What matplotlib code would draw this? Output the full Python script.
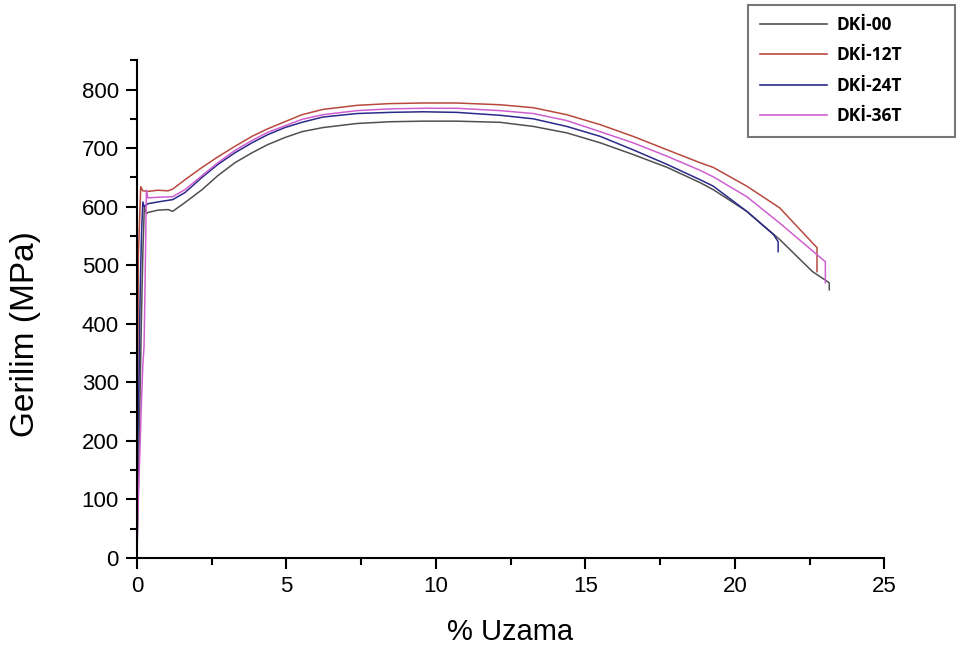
import matplotlib
matplotlib.use("Agg")
import matplotlib.pyplot as plt
from matplotlib.ticker import MultipleLocator

# ---- data ----
labels = ["DKİ-00", "DKİ-12T", "DKİ-24T", "DKİ-36T"]
colors = ["#505050", "#b8493e", "#2a2a8a", "#cf5fd0"]

dk00_x = [0, 0.05, 0.1, 0.15, 0.2, 0.25, 0.32, 0.37, 0.7, 1.04, 1.2, 1.61, 2.18, 2.71, 3.28,
          3.85, 4.38, 4.95, 5.52, 6.22, 7.36, 8.47, 9.57, 10.7, 12.15, 13.26, 14.38, 15.5,
          16.6, 17.74, 18.84, 19.28, 20.4, 21.5, 22.6, 23.16, 23.16]
dk00_y = [0, 120, 260, 400, 520, 600, 588, 590, 594, 595, 592, 607, 629, 653, 675,
          692, 706, 718, 728, 735, 742, 745, 746, 746, 744, 737, 726, 709,
          689, 667, 641, 629, 592, 544, 489, 470, 458]

dk12_x = [0, 0.03, 0.05, 0.08, 0.13, 0.2, 0.37, 0.7, 1.04, 1.2, 1.61, 2.18, 2.71, 3.28,
          3.85, 4.38, 4.95, 5.52, 6.22, 7.36, 8.47, 9.57, 10.7, 12.15, 13.26, 14.38, 15.5,
          16.6, 17.74, 18.84, 19.28, 20.4, 21.5, 22.6, 22.75, 22.75]
dk12_y = [0, 300, 515, 560, 634, 627, 626, 628, 627, 630, 646, 667, 685, 703,
          720, 733, 745, 757, 766, 773, 776, 777, 777, 774, 769, 757, 740,
          720, 697, 675, 667, 635, 598, 538, 530, 489]

dk24_x = [0, 0.02, 0.05, 0.08, 0.1, 0.13, 0.16, 0.2, 0.25, 0.37, 0.7, 1.2, 1.61, 2.18,
          2.71, 3.28, 3.85, 4.38, 4.95, 5.52, 6.22, 7.36, 8.47, 9.57, 10.7, 12.15, 13.26,
          14.38, 15.5, 16.6, 17.74, 18.84, 19.28, 20.4, 21.3, 21.45, 21.45]
dk24_y = [0, 150, 250, 330, 420, 500, 560, 608, 600, 605, 608, 612, 624, 650,
          672, 692, 709, 723, 735, 744, 753, 759, 761, 762, 761, 756, 750,
          737, 720, 697, 672, 646, 635, 592, 552, 540, 523]

dk36_x = [0, 0.05, 0.1, 0.15, 0.2, 0.24, 0.27, 0.3, 0.32, 0.37, 0.7, 1.2, 1.61, 2.18,
          2.71, 3.28, 3.85, 4.38, 4.95, 5.52, 6.22, 7.36, 8.47, 9.57, 10.7, 12.15, 13.26,
          14.38, 15.5, 16.6, 17.74, 18.84, 19.28, 20.4, 21.5, 22.75, 23.03, 23.03]
dk36_y = [0, 100, 180, 260, 330, 360, 450, 560, 628, 615, 616, 617, 629, 653,
          675, 696, 713, 727, 738, 749, 757, 764, 767, 768, 768, 764, 759,
          747, 728, 709, 686, 662, 651, 617, 572, 518, 506, 470]

xs = [dk00_x, dk12_x, dk24_x, dk36_x]
ys = [dk00_y, dk12_y, dk24_y, dk36_y]

x_ticks = [0, 5, 10, 15, 20, 25]
y_ticks = [0, 100, 200, 300, 400, 500, 600, 700, 800]

# ---- figure ----
plt.rcParams["font.family"] = ["Liberation Sans", "DejaVu Sans"]
fig = plt.figure(figsize=(9.57, 6.48), dpi=100)
ax = fig.add_axes([0.143, 0.139, 0.781, 0.768])

handles = []
for x, y, c, lab in zip(xs, ys, colors, labels):
    h, = ax.plot(x, y, color=c, lw=1.1, label=lab)
    handles.append(h)

ax.set_xlim(0, 25)
ax.set_ylim(0, 850)
ax.set_xticks(x_ticks)
ax.set_yticks(y_ticks)
ax.xaxis.set_minor_locator(MultipleLocator(2.5))
ax.yaxis.set_minor_locator(MultipleLocator(50))
ax.spines["top"].set_visible(False)
ax.spines["right"].set_visible(False)
for s in ["left", "bottom"]:
    ax.spines[s].set_linewidth(1.5)
ax.tick_params(which="major", direction="out", length=8, width=1.5, labelsize=16, pad=5)
ax.tick_params(which="minor", direction="out", length=5, width=1.5)

ax.set_xlabel("% Uzama", fontsize=21, labelpad=15)
ax.set_ylabel("Gerilim (MPa)", fontsize=24)
ax.yaxis.set_label_coords(-0.128, 0.45)

leg = fig.legend(handles=handles, labels=labels, loc="upper left",
                 bbox_to_anchor=(0.782, 0.993, 0.216, 0.0), mode="expand",
                 frameon=True, fancybox=False,
                 prop={"family": ["Open Sans", "DejaVu Sans"], "weight": "bold", "size": 12.5},
                 handlelength=3.9, handletextpad=0.5, labelspacing=0.72,
                 borderpad=0.65, borderaxespad=0.0)
leg.get_frame().set_edgecolor("#555555")
leg.get_frame().set_linewidth(1.5)
for ln in leg.get_lines():
    ln.set_linewidth(1.2)

fig.savefig("out.png", dpi=100)
